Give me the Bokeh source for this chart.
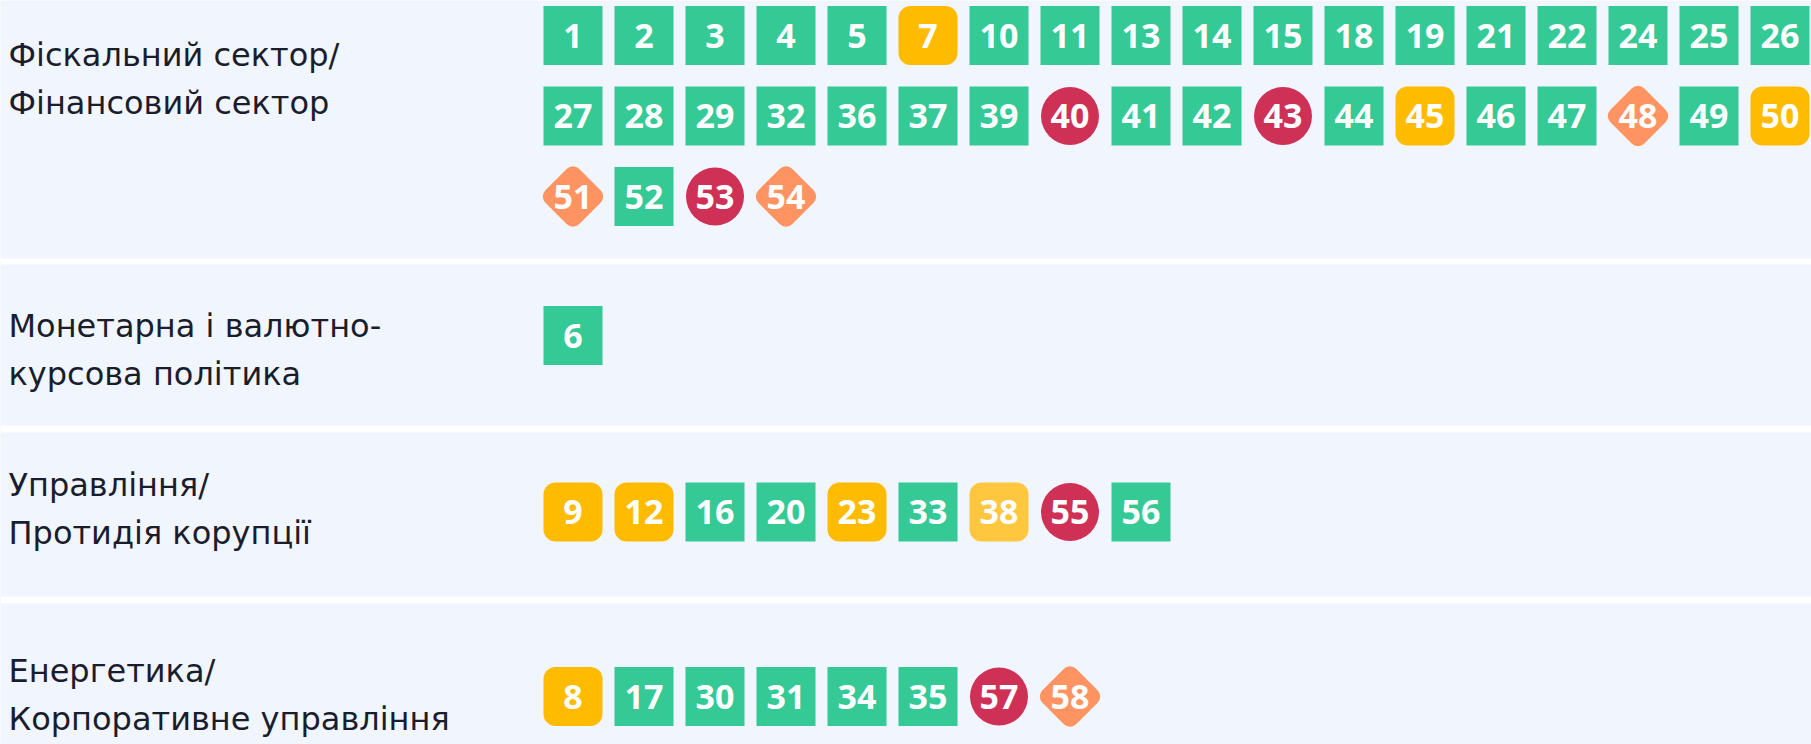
import math
import pandas as pd
from bokeh.plotting import figure
from bokeh.models import ColumnDataSource, Range1d, BoxAnnotation
from bokeh.core.properties import value
from bokeh.embed import file_html
from bokeh.resources import INLINE

# ---------------- data ----------------
section_labels = [
    ["Фіскальний сектор/", "Фінансовий сектор"],
    ["Монетарна і валютно-", "курсова політика"],
    ["Управління/", "Протидія корупції"],
    ["Енергетика/", "Корпоративне управління"],
]

# status codes: D = виконано (green square), P = частково (amber rounded square),
# L = частково, світлий (light amber), W = в процесі (orange diamond), N = не виконано (red circle)
fiscal_ids = [1, 2, 3, 4, 5, 7, 10, 11, 13, 14, 15, 18, 19, 21, 22, 24, 25, 26,
              27, 28, 29, 32, 36, 37, 39, 40, 41, 42, 43, 44, 45, 46, 47, 48, 49, 50,
              51, 52, 53, 54]
fiscal_status = ["D", "D", "D", "D", "D", "P", "D", "D", "D", "D", "D", "D", "D", "D", "D", "D", "D", "D",
                 "D", "D", "D", "D", "D", "D", "D", "N", "D", "D", "N", "D", "P", "D", "D", "W", "D", "P",
                 "W", "D", "N", "W"]

monetary_ids = [6]
monetary_status = ["D"]

governance_ids = [9, 12, 16, 20, 23, 33, 38, 55, 56]
governance_status = ["P", "P", "D", "D", "P", "D", "L", "N", "D"]

energy_ids = [8, 17, 30, 31, 34, 35, 57, 58]
energy_status = ["P", "D", "D", "D", "D", "D", "N", "W"]

sections_ids = [fiscal_ids, monetary_ids, governance_ids, energy_ids]
sections_status = [fiscal_status, monetary_status, governance_status, energy_status]

# ---------------- layout / style ----------------
BG = "#F1F5FD"
LABEL_COLOR = "#1A1D2C"
COLORS = {"D": "#34C995", "P": "#FFBB00", "L": "#FFC63F", "W": "#FF9462", "N": "#CE3056"}

W, H = 1811, 744
X0 = 572.5          # centre of first column (page pixels)
PITCH = 71.0
PER_ROW = 18
ROW_PITCH = 80.5
SECTION_Y = [35, 335, 511.5, 696]
LABEL_BASE = [54, 325, 484, 670]
LINE_GAP = 48
BANDS = [(258, 264), (425, 432), (596, 603)]
BOX = 59

rows = []
for s, (ids, sts) in enumerate(zip(sections_ids, sections_status)):
    for i, (n, st) in enumerate(zip(ids, sts)):
        col = i % PER_ROW
        r = i // PER_ROW
        rows.append(dict(num=str(n), status=st, color=COLORS[st],
                         x=X0 + PITCH * col, y=SECTION_Y[s] + ROW_PITCH * r))
df = pd.DataFrame(rows)

lab_rows = []
for s, lines in enumerate(section_labels):
    for k, t in enumerate(lines):
        lab_rows.append(dict(text=t, x=8, y=LABEL_BASE[s] + LINE_GAP * k))
ldf = pd.DataFrame(lab_rows)

p = figure(width=W, height=H, x_range=Range1d(0, W), y_range=Range1d(H, 0),
           output_backend="svg", toolbar_location=None, min_border=0)
p.axis.visible = False
p.grid.visible = False
p.outline_line_color = None
p.background_fill_color = BG
p.border_fill_color = BG

for b0, b1 in BANDS:
    p.add_layout(BoxAnnotation(bottom=b0, top=b1, fill_color="white", fill_alpha=1,
                               line_color=None, level="underlay"))

def src(codes):
    return ColumnDataSource(df[df.status.isin(codes)])

# green squares
p.rect("x", "y", width=BOX, height=BOX, width_units="screen", height_units="screen",
       fill_color="color", line_color=None, source=src(["D"]))
# amber rounded squares
p.rect("x", "y", width=BOX, height=BOX, width_units="screen", height_units="screen",
       fill_color="color", line_color=None, border_radius=12, source=src(["P", "L"]))
# orange diamonds
p.rect("x", "y", width=48, height=48, width_units="screen", height_units="screen",
       angle=math.pi / 4, fill_color="color", line_color=None, border_radius=9,
       source=src(["W"]))
# red circles
p.scatter("x", "y", marker="circle", size=58, fill_color="color", line_color=None,
          source=src(["N"]))

# numbers
p.text("x", "y", text="num", source=ColumnDataSource(df), text_color="white",
       text_font=value("Noto Sans"), text_font_style="bold", text_font_size="34px",
       text_align="center", text_baseline="middle")

# section labels
p.text("x", "y", text="text", source=ColumnDataSource(ldf), text_color=LABEL_COLOR,
       text_font=value("DejaVu Sans"), text_font_size="32px",
       text_align="left", text_baseline="alphabetic")

open("out.html", "w").write(file_html(p, INLINE))
